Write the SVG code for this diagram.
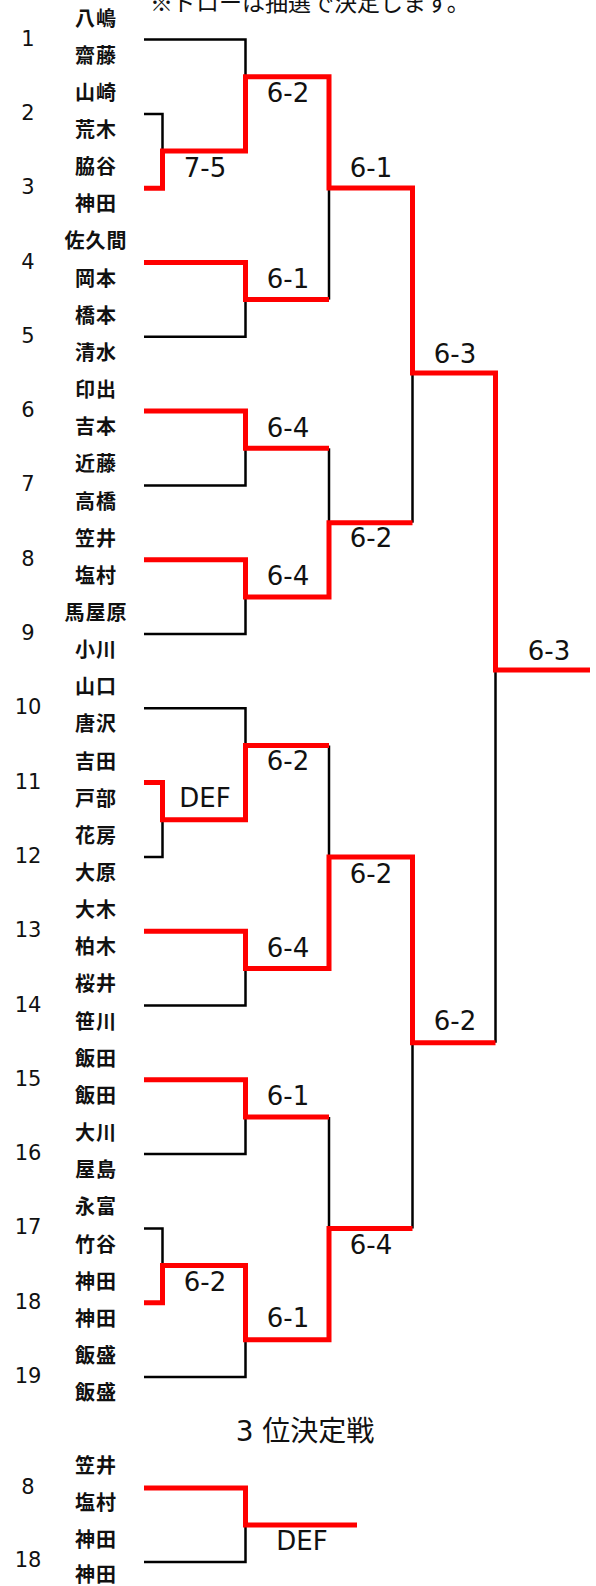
<svg xmlns="http://www.w3.org/2000/svg" width="596" height="1586" viewBox="0 0 596 1586">
<style>
.bg{fill:#ffffff}
.nm{font-family:"Noto Sans CJK JP","Noto Sans",sans-serif;font-weight:bold;font-size:20px;fill:#111;text-anchor:middle;letter-spacing:1px}
.sd{font-family:"DejaVu Sans","Noto Sans CJK JP",sans-serif;font-size:21px;fill:#111;text-anchor:middle}
.sc{font-family:"DejaVu Sans","Noto Sans CJK JP",sans-serif;font-size:26px;fill:#111;text-anchor:middle}
.tt{font-family:"DejaVu Sans","Noto Sans CJK JP",sans-serif;font-size:28px;fill:#111;text-anchor:middle}
.nt{font-family:"Noto Sans CJK JP",sans-serif;font-size:23px;fill:#111}
.bk{fill:none;stroke:#000;stroke-width:2.5;stroke-linejoin:miter}
.rd{fill:none;stroke:#ff0000;stroke-width:5;stroke-linejoin:miter;stroke-linecap:butt}
</style>
<rect class="bg" x="0" y="0" width="596" height="1586"/>
<text class="nt" x="150" y="11">※ドローは抽選で決定します。</text>

<g id="connectors">
  <g id="black-lines">
    <path class="bk" d="M144,113.9 H162.5 V151"/>
    <path class="bk" d="M144,39.6 H245.5 V76.7"/>
    <path class="bk" d="M144,336.8 H245.5 V299.6"/>
    <path class="bk" d="M329,299.6 V188"/>
    <path class="bk" d="M144,485.4 H245.5 V448.3"/>
    <path class="bk" d="M144,634 H245.5 V596.9"/>
    <path class="bk" d="M329,448.3 V522.7"/>
    <path class="bk" d="M412.5,522.7 V373"/>
    <path class="bk" d="M495.5,1042.7 V670"/>
    <path class="bk" d="M144,856.9 H162.5 V819.7"/>
    <path class="bk" d="M144,708.3 H245.5 V745.5"/>
    <path class="bk" d="M329,745.5 V857"/>
    <path class="bk" d="M144,1005.5 H245.5 V968.4"/>
    <path class="bk" d="M412.5,1228.5 V1042.7"/>
    <path class="bk" d="M144,1154.1 H245.5 V1117"/>
    <path class="bk" d="M329,1117 V1228.5"/>
    <path class="bk" d="M144,1228.4 H162.5 V1265.5"/>
    <path class="bk" d="M144,1377 H245.5 V1339.8"/>
    <path class="bk" d="M144,1562 H245.5 V1525"/>
  </g>
  <g id="red-lines">
    <path class="rd" d="M144,188.2 H162.5 V151 H245.5 V76.7 H329 V188 H412.5 V373 H495.5 V670 H590"/>
    <path class="rd" d="M144,262.5 H245.5 V299.6 H329"/>
    <path class="rd" d="M144,411.1 H245.5 V448.3 H329"/>
    <path class="rd" d="M144,559.7 H245.5 V596.9 H329 V522.7 H412.5"/>
    <path class="rd" d="M144,782.6 H162.5 V819.7 H245.5 V745.5 H329"/>
    <path class="rd" d="M144,931.2 H245.5 V968.4 H329 V857 H412.5 V1042.7 H495.5"/>
    <path class="rd" d="M144,1079.8 H245.5 V1117 H329"/>
    <path class="rd" d="M144,1302.7 H162.5 V1265.5 H245.5 V1339.8 H329 V1228.5 H412.5"/>
    <path class="rd" d="M144,1488 H245.5 V1525 H357"/>
  </g>
</g>

<g id="scores">
  <text class="sc" x="205" y="176.5">7-5</text>
  <text class="sc" x="288" y="102">6-2</text>
  <text class="sc" x="288" y="287.5">6-1</text>
  <text class="sc" x="371" y="176.5">6-1</text>
  <text class="sc" x="288" y="436.5">6-4</text>
  <text class="sc" x="288" y="584.5">6-4</text>
  <text class="sc" x="371" y="546.5">6-2</text>
  <text class="sc" x="455" y="362.5">6-3</text>
  <text class="sc" x="205" y="806.5">DEF</text>
  <text class="sc" x="288" y="769.5">6-2</text>
  <text class="sc" x="288" y="956.5">6-4</text>
  <text class="sc" x="371" y="882.5">6-2</text>
  <text class="sc" x="288" y="1104.5">6-1</text>
  <text class="sc" x="205" y="1290.5">6-2</text>
  <text class="sc" x="288" y="1326.5">6-1</text>
  <text class="sc" x="371" y="1253.5">6-4</text>
  <text class="sc" x="455" y="1029.5">6-2</text>
  <text class="sc" x="549" y="659.5">6-3</text>
  <text class="sc" x="302" y="1549.5">DEF</text>
</g>

<g id="seeds">
  <text class="sd" x="28" y="45.6">1</text>
  <text class="sd" x="28" y="119.9">2</text>
  <text class="sd" x="28" y="194.2">3</text>
  <text class="sd" x="28" y="268.5">4</text>
  <text class="sd" x="28" y="342.8">5</text>
  <text class="sd" x="28" y="417.1">6</text>
  <text class="sd" x="28" y="491.4">7</text>
  <text class="sd" x="28" y="565.7">8</text>
  <text class="sd" x="28" y="640">9</text>
  <text class="sd" x="28" y="714.3">10</text>
  <text class="sd" x="28" y="788.6">11</text>
  <text class="sd" x="28" y="862.9">12</text>
  <text class="sd" x="28" y="937.2">13</text>
  <text class="sd" x="28" y="1011.5">14</text>
  <text class="sd" x="28" y="1085.8">15</text>
  <text class="sd" x="28" y="1160.1">16</text>
  <text class="sd" x="28" y="1234.4">17</text>
  <text class="sd" x="28" y="1308.7">18</text>
  <text class="sd" x="28" y="1383">19</text>
  <text class="sd" x="28" y="1493.5">8</text>
  <text class="sd" x="28" y="1566.5">18</text>
</g>

<g id="names">
  <text class="nm" x="96" y="25.5">八嶋</text>
  <text class="nm" x="96" y="62.7">齋藤</text>
  <text class="nm" x="96" y="99.8">山崎</text>
  <text class="nm" x="96" y="137">荒木</text>
  <text class="nm" x="96" y="174.1">脇谷</text>
  <text class="nm" x="96" y="211.3">神田</text>
  <text class="nm" x="96" y="248.4">佐久間</text>
  <text class="nm" x="96" y="285.6">岡本</text>
  <text class="nm" x="96" y="322.7">橋本</text>
  <text class="nm" x="96" y="359.9">清水</text>
  <text class="nm" x="96" y="397">印出</text>
  <text class="nm" x="96" y="434.2">吉本</text>
  <text class="nm" x="96" y="471.3">近藤</text>
  <text class="nm" x="96" y="508.5">高橋</text>
  <text class="nm" x="96" y="545.6">笠井</text>
  <text class="nm" x="96" y="582.8">塩村</text>
  <text class="nm" x="96" y="619.9">馬屋原</text>
  <text class="nm" x="96" y="657.1">小川</text>
  <text class="nm" x="96" y="694.2">山口</text>
  <text class="nm" x="96" y="731.4">唐沢</text>
  <text class="nm" x="96" y="768.5">吉田</text>
  <text class="nm" x="96" y="805.7">戸部</text>
  <text class="nm" x="96" y="842.8">花房</text>
  <text class="nm" x="96" y="880">大原</text>
  <text class="nm" x="96" y="917.1">大木</text>
  <text class="nm" x="96" y="954.3">柏木</text>
  <text class="nm" x="96" y="991.4">桜井</text>
  <text class="nm" x="96" y="1028.6">笹川</text>
  <text class="nm" x="96" y="1065.7">飯田</text>
  <text class="nm" x="96" y="1102.9">飯田</text>
  <text class="nm" x="96" y="1140">大川</text>
  <text class="nm" x="96" y="1177.2">屋島</text>
  <text class="nm" x="96" y="1214.3">永富</text>
  <text class="nm" x="96" y="1251.5">竹谷</text>
  <text class="nm" x="96" y="1288.6">神田</text>
  <text class="nm" x="96" y="1325.8">神田</text>
  <text class="nm" x="96" y="1362.9">飯盛</text>
  <text class="nm" x="96" y="1400.1">飯盛</text>
  <text class="nm" x="96" y="1473">笠井</text>
  <text class="nm" x="96" y="1510">塩村</text>
  <text class="nm" x="96" y="1547">神田</text>
  <text class="nm" x="96" y="1582">神田</text>
</g>

<g id="third-place-title">
  <text class="tt" x="305" y="1441">3 位決定戦</text>
</g>
</svg>
